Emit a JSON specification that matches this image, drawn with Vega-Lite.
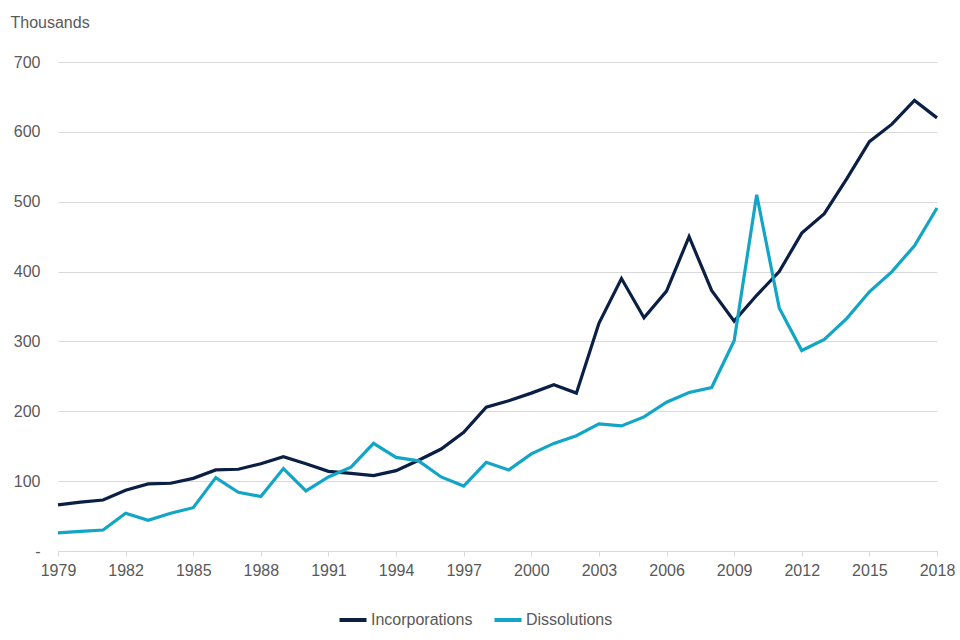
{
  "$schema": "https://vega.github.io/schema/vega-lite/v6.json",
  "width": 879,
  "height": 489,
  "autosize": {"type": "none"},
  "padding": {"left": 58, "top": 62, "right": 23, "bottom": 89},
  "background": "white",
  "config": {
    "view": {"stroke": null},
    "font": "Liberation Sans",
    "axis": {"labelFont": "Liberation Sans", "labelFontSize": 16, "labelColor": "#595959", "titleFont": "Liberation Sans"},
    "legend": {"labelFont": "Liberation Sans", "labelFontSize": 16, "labelColor": "#595959"}
  },
  "data": {
    "values": [
      {"year": 1979, "series": "Incorporations", "value": 66},
      {"year": 1980, "series": "Incorporations", "value": 70},
      {"year": 1981, "series": "Incorporations", "value": 73},
      {"year": 1982, "series": "Incorporations", "value": 87},
      {"year": 1983, "series": "Incorporations", "value": 96},
      {"year": 1984, "series": "Incorporations", "value": 97},
      {"year": 1985, "series": "Incorporations", "value": 104},
      {"year": 1986, "series": "Incorporations", "value": 116},
      {"year": 1987, "series": "Incorporations", "value": 117},
      {"year": 1988, "series": "Incorporations", "value": 125},
      {"year": 1989, "series": "Incorporations", "value": 135},
      {"year": 1990, "series": "Incorporations", "value": 125},
      {"year": 1991, "series": "Incorporations", "value": 114},
      {"year": 1992, "series": "Incorporations", "value": 111},
      {"year": 1993, "series": "Incorporations", "value": 108},
      {"year": 1994, "series": "Incorporations", "value": 115},
      {"year": 1995, "series": "Incorporations", "value": 130},
      {"year": 1996, "series": "Incorporations", "value": 146},
      {"year": 1997, "series": "Incorporations", "value": 170},
      {"year": 1998, "series": "Incorporations", "value": 206},
      {"year": 1999, "series": "Incorporations", "value": 215},
      {"year": 2000, "series": "Incorporations", "value": 226},
      {"year": 2001, "series": "Incorporations", "value": 238},
      {"year": 2002, "series": "Incorporations", "value": 226},
      {"year": 2003, "series": "Incorporations", "value": 326},
      {"year": 2004, "series": "Incorporations", "value": 390},
      {"year": 2005, "series": "Incorporations", "value": 334},
      {"year": 2006, "series": "Incorporations", "value": 372},
      {"year": 2007, "series": "Incorporations", "value": 450},
      {"year": 2008, "series": "Incorporations", "value": 373},
      {"year": 2009, "series": "Incorporations", "value": 329},
      {"year": 2010, "series": "Incorporations", "value": 366},
      {"year": 2011, "series": "Incorporations", "value": 400},
      {"year": 2012, "series": "Incorporations", "value": 455},
      {"year": 2013, "series": "Incorporations", "value": 483},
      {"year": 2014, "series": "Incorporations", "value": 533},
      {"year": 2015, "series": "Incorporations", "value": 586},
      {"year": 2016, "series": "Incorporations", "value": 611},
      {"year": 2017, "series": "Incorporations", "value": 645},
      {"year": 2018, "series": "Incorporations", "value": 620},
      {"year": 1979, "series": "Dissolutions", "value": 26},
      {"year": 1980, "series": "Dissolutions", "value": 28},
      {"year": 1981, "series": "Dissolutions", "value": 30},
      {"year": 1982, "series": "Dissolutions", "value": 54},
      {"year": 1983, "series": "Dissolutions", "value": 44},
      {"year": 1984, "series": "Dissolutions", "value": 54},
      {"year": 1985, "series": "Dissolutions", "value": 62},
      {"year": 1986, "series": "Dissolutions", "value": 105},
      {"year": 1987, "series": "Dissolutions", "value": 84},
      {"year": 1988, "series": "Dissolutions", "value": 78},
      {"year": 1989, "series": "Dissolutions", "value": 118},
      {"year": 1990, "series": "Dissolutions", "value": 86},
      {"year": 1991, "series": "Dissolutions", "value": 106},
      {"year": 1992, "series": "Dissolutions", "value": 120},
      {"year": 1993, "series": "Dissolutions", "value": 154},
      {"year": 1994, "series": "Dissolutions", "value": 134},
      {"year": 1995, "series": "Dissolutions", "value": 129},
      {"year": 1996, "series": "Dissolutions", "value": 106},
      {"year": 1997, "series": "Dissolutions", "value": 93},
      {"year": 1998, "series": "Dissolutions", "value": 127},
      {"year": 1999, "series": "Dissolutions", "value": 116},
      {"year": 2000, "series": "Dissolutions", "value": 139},
      {"year": 2001, "series": "Dissolutions", "value": 154},
      {"year": 2002, "series": "Dissolutions", "value": 165},
      {"year": 2003, "series": "Dissolutions", "value": 182},
      {"year": 2004, "series": "Dissolutions", "value": 179},
      {"year": 2005, "series": "Dissolutions", "value": 192},
      {"year": 2006, "series": "Dissolutions", "value": 213},
      {"year": 2007, "series": "Dissolutions", "value": 227},
      {"year": 2008, "series": "Dissolutions", "value": 234},
      {"year": 2009, "series": "Dissolutions", "value": 301},
      {"year": 2010, "series": "Dissolutions", "value": 510},
      {"year": 2011, "series": "Dissolutions", "value": 348},
      {"year": 2012, "series": "Dissolutions", "value": 287},
      {"year": 2013, "series": "Dissolutions", "value": 303},
      {"year": 2014, "series": "Dissolutions", "value": 333},
      {"year": 2015, "series": "Dissolutions", "value": 371},
      {"year": 2016, "series": "Dissolutions", "value": 400},
      {"year": 2017, "series": "Dissolutions", "value": 437},
      {"year": 2018, "series": "Dissolutions", "value": 491}
    ]
  },
  "mark": {"type": "line", "strokeWidth": 3.2, "strokeJoin": "miter", "strokeMiterLimit": 4},
  "encoding": {
    "x": {
      "field": "year",
      "type": "quantitative",
      "scale": {"domain": [1979, 2018], "nice": false, "zero": false},
      "axis": {
        "title": null,
        "values": [1979, 1982, 1985, 1988, 1991, 1994, 1997, 2000, 2003, 2006, 2009, 2012, 2015, 2018],
        "format": "d",
        "grid": false,
        "domainColor": "#d9d9d9",
        "domainWidth": 1,
        "tickColor": "#d9d9d9",
        "tickSize": 5,
        "labelPadding": 6,
        "labelFlush": false,
        "labelOverlap": false
      }
    },
    "y": {
      "field": "value",
      "type": "quantitative",
      "scale": {"domain": [0, 700], "nice": false},
      "axis": {
        "title": "Thousands",
        "titleAngle": 0,
        "titleAlign": "left",
        "titleBaseline": "alphabetic",
        "titleX": -48,
        "titleY": -35,
        "titleFontSize": 16,
        "titleFontWeight": "normal",
        "titleColor": "#595959",
        "values": [0, 100, 200, 300, 400, 500, 600, 700],
        "labelExpr": "datum.value == 0 ? '-' : datum.label",
        "domain": false,
        "ticks": false,
        "gridColor": "#d9d9d9",
        "gridWidth": 1,
        "labelPadding": 18
      }
    },
    "color": {
      "field": "series",
      "type": "nominal",
      "scale": {"domain": ["Incorporations", "Dissolutions"], "range": ["#0b1f45", "#12a5c6"]},
      "legend": {
        "title": null,
        "orient": "none",
        "direction": "horizontal",
        "legendX": 279,
        "legendY": 542,
        "symbolType": "stroke",
        "symbolStrokeWidth": 4,
        "symbolSize": 730,
        "labelOffset": 2,
        "columnPadding": 13
      }
    }
  }
}
